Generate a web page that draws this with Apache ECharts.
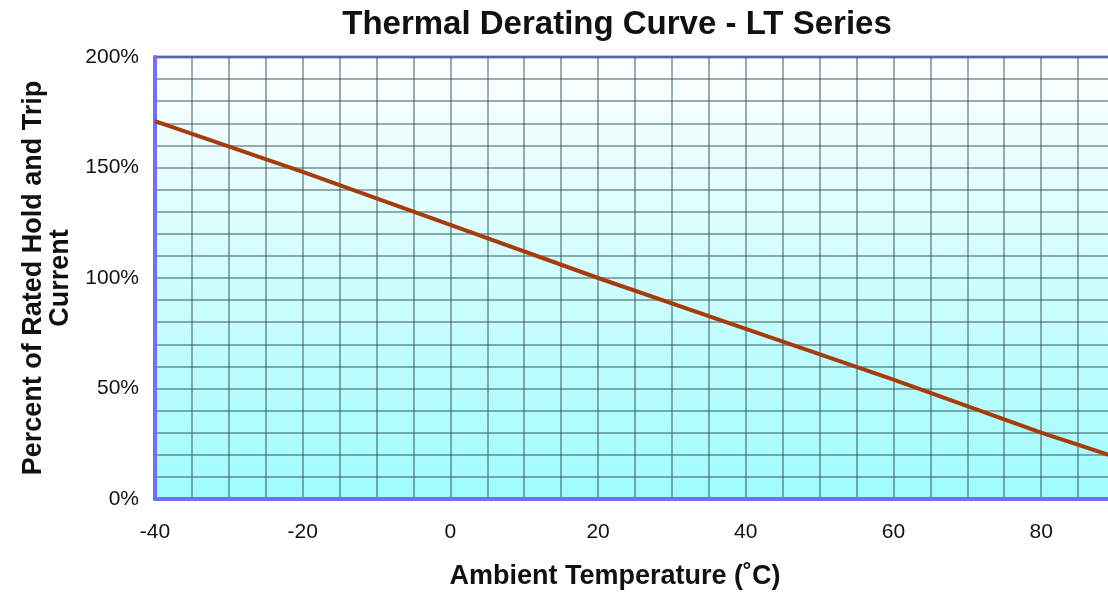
<!DOCTYPE html>
<html>
<head>
<meta charset="utf-8">
<script src="https://cdn.jsdelivr.net/npm/echarts@6/dist/echarts.min.js"></script>
<style>html,body{margin:0;padding:0;background:#fff;}#c{width:1108px;height:592px;}</style>
</head>
<body>
<div id="c"></div>
<script>
const titleText = 'Thermal Derating Curve - LT Series';
const xName = 'Ambient Temperature (\u02DAC)';
const yName = 'Percent of Rated Hold and Trip\nCurrent';
const temps = [-40, -20, 0, 20, 40, 60, 80, 90];
const percents = [171, 148, 124, 100, 77, 54, 30, 19];
const xLabelTicks = [-40, -20, 0, 20, 40, 60, 80];
const yLabelTicks = [0, 50, 100, 150, 200];

const font = 'Liberation Sans, Arial, Helvetica, sans-serif';
const chart = echarts.init(document.getElementById('c'), null, {renderer: 'canvas'});
chart.setOption({
  animation: false,
  backgroundColor: '#ffffff',
  title: {
    text: titleText,
    left: 617,
    textAlign: 'center',
    top: 8,
    padding: 0,
    textStyle: {fontFamily: font, fontWeight: 'bold', fontSize: 33, color: '#111'}
  },
  grid: {
    left: 155, top: 57, bottom: 93, right: -7,
    outerBoundsMode: 'none',
    containLabel: false,
    show: true,
    borderColor: '#8080ff',
    borderWidth: 3,
    backgroundColor: new echarts.graphic.LinearGradient(0, 0, 0, 1, [
      {offset: 0, color: '#ffffff'},
      {offset: 1, color: '#9ffcfd'}
    ])
  },
  xAxis: {
    type: 'value',
    min: -40, max: 90, interval: 5,
    name: xName,
    nameLocation: 'middle',
    nameGap: 64,
    nameTextStyle: {fontFamily: font, fontWeight: 'bold', fontSize: 27, color: '#111', padding: [0, 40, 0, 0]},
    axisLine: {show: true, onZero: false, lineStyle: {color: '#7070ff', width: 4}},
    axisTick: {show: false},
    axisLabel: {
      margin: 23,
      fontFamily: font, fontSize: 21, color: '#111',
      formatter: v => xLabelTicks.includes(v) ? String(v) : ''
    },
    splitLine: {show: true, lineStyle: {color: 'rgba(40,70,70,0.6)', width: 1.5}}
  },
  yAxis: {
    type: 'value',
    min: 0, max: 200, interval: 10,
    name: yName,
    nameLocation: 'middle',
    nameGap: 81,
    nameTextStyle: {fontFamily: font, fontWeight: 'bold', fontSize: 27, lineHeight: 27, color: '#111', align: 'center'},
    axisLine: {show: true, onZero: false, lineStyle: {color: '#7070ff', width: 4}},
    axisTick: {show: false},
    axisLabel: {
      margin: 16,
      fontFamily: font, fontSize: 21, color: '#111',
      formatter: v => yLabelTicks.includes(v) ? v + '%' : ''
    },
    splitLine: {show: true, lineStyle: {color: 'rgba(40,70,70,0.6)', width: 1.5}}
  },
  series: [{
    type: 'line',
    data: temps.map((t, i) => [t, percents[i]]),
    showSymbol: false,
    symbol: 'none',
    lineStyle: {color: '#a63c0c', width: 4},
    z: 5
  }]
});
</script>
</body>
</html>
